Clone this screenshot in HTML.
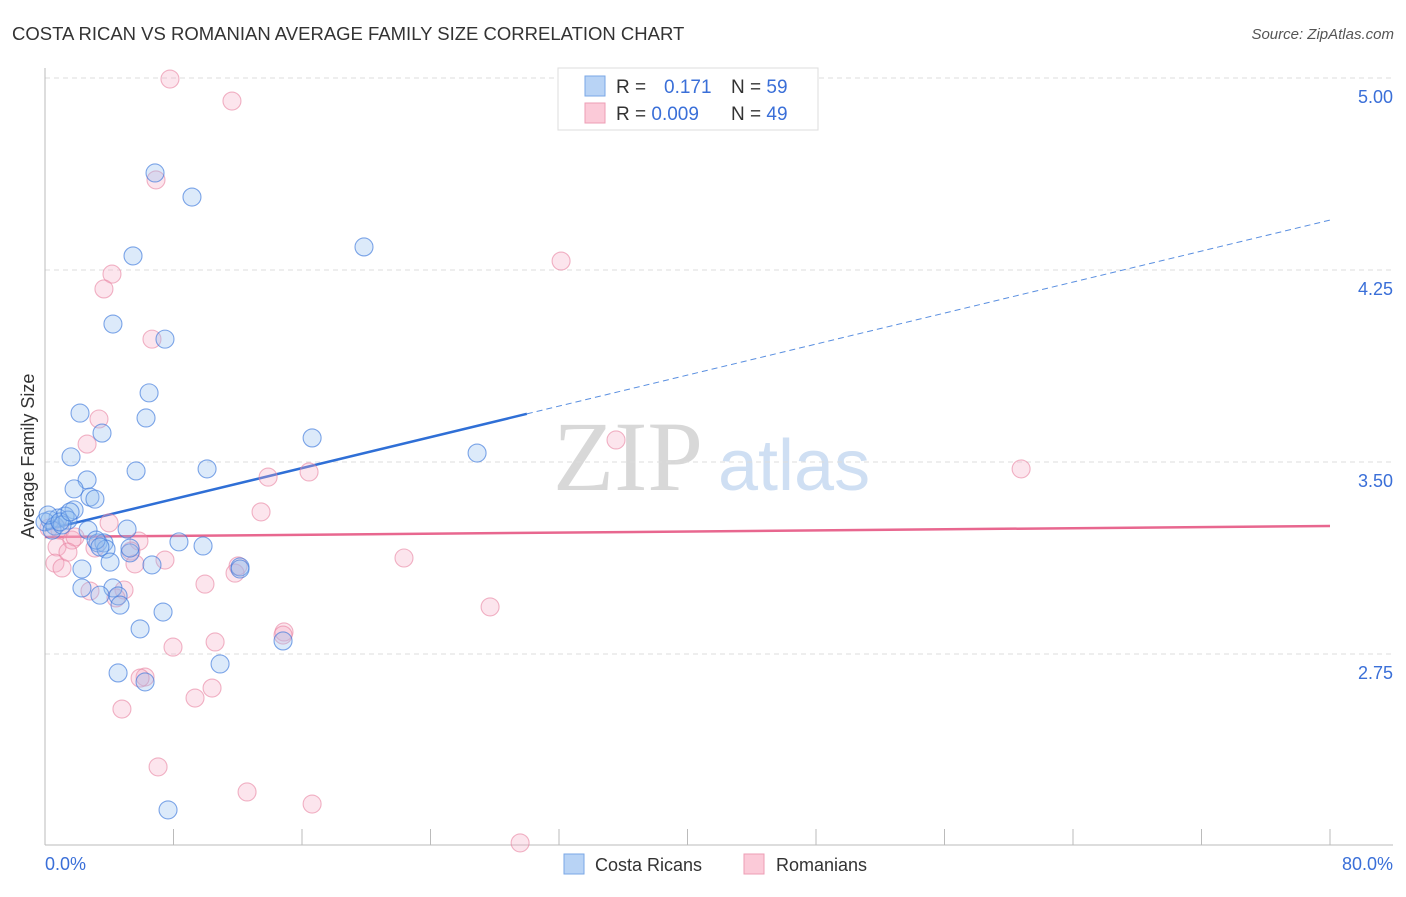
<!DOCTYPE html>
<html><head><meta charset="utf-8"><style>
body{margin:0;background:#fff;font-family:"Liberation Sans",sans-serif}
</style></head><body>
<svg id="chart" width="1406" height="892" viewBox="0 0 1406 892" font-family="Liberation Sans, sans-serif">
<text x="12" y="40" font-size="18.5" fill="#333">COSTA RICAN VS ROMANIAN AVERAGE FAMILY SIZE CORRELATION CHART</text>
<text x="1394" y="39" font-size="15" fill="#555" font-style="italic" text-anchor="end">Source: ZipAtlas.com</text>
<text transform="translate(34,456) rotate(-90)" font-size="18" fill="#333" text-anchor="middle">Average Family Size</text>
<g>
<text x="553" y="490" font-size="100" style="font-family:'Liberation Serif',serif" fill="#d8d8d8">ZIP</text>
<text x="718" y="490" font-size="72" fill="#cfdff3">atlas</text>
</g>
<g id="grid"></g>
<g id="axes"></g>
<g id="lines"></g>
<g id="pts"></g>
<g>
<rect x="558" y="68" width="260" height="62" fill="#fff" stroke="#ddd"/>
<rect x="585" y="76" width="20" height="20" fill="#b8d3f5" stroke="#7aa7e6"/>
<rect x="585" y="103" width="20" height="20" fill="#fbcad8" stroke="#ee9db5"/>
<text x="616" y="93" font-size="19" fill="#333">R = <tspan x="664" fill="#3a6fd8">0.171</tspan><tspan x="731" fill="#333">N = </tspan><tspan fill="#3a6fd8">59</tspan></text>
<text x="616" y="120" font-size="19" fill="#333">R = <tspan fill="#3a6fd8">0.009</tspan><tspan x="731" fill="#333">N = </tspan><tspan fill="#3a6fd8">49</tspan></text>
</g>
<g>
<rect x="564" y="854" width="20" height="20" fill="#b8d3f5" stroke="#7aa7e6"/>
<text x="595" y="871" font-size="18" fill="#333">Costa Ricans</text>
<rect x="744" y="854" width="20" height="20" fill="#fbcad8" stroke="#ee9db5"/>
<text x="776" y="871" font-size="18" fill="#333">Romanians</text>
</g>
<text x="45" y="870" font-size="18" fill="#3a6fd8">0.0%</text>
<text x="1393" y="870" font-size="18" fill="#3a6fd8" text-anchor="end">80.0%</text>
</svg>
<script>
const yTicks=[5.00,4.25,3.50,2.75];
const xTickVals=[0,8,16,24,32,40,48,56,64,72,80];
const blueX=[6.85,9.15,5.48,19.86,4.23,7.47,6.48,2.18,6.29,3.55,16.63,1.62,26.90,5.67,10.09,2.62,1.81,2.80,3.11,1.81,1.25,0.81,0.31,0,0.62,1.43,2.68,5.11,3.30,3.67,8.34,9.84,5.29,3.80,4.05,6.66,12.14,2.30,2.30,4.23,3.42,4.55,4.67,7.35,5.92,4.55,6.23,10.90,14.82,7.66,0.44,1.06,0.19,3.18,5.29,0.93,1.56,3.42,12.14];
const blueY=[4.629,4.535,4.305,4.340,4.039,3.980,3.770,3.691,3.672,3.613,3.594,3.520,3.535,3.465,3.473,3.430,3.395,3.363,3.355,3.313,3.289,3.281,3.273,3.266,3.250,3.273,3.234,3.238,3.184,3.184,3.188,3.172,3.145,3.160,3.109,3.098,3.090,3.082,3.008,3.008,2.980,2.977,2.941,2.914,2.848,2.676,2.641,2.711,2.801,2.141,3.234,3.254,3.293,3.195,3.164,3.266,3.305,3.168,3.082];
const pinkX=[7.78,11.64,6.91,4.17,3.67,32.13,6.66,3.36,2.62,35.55,13.89,16.44,60.77,3.99,13.45,0.25,0.93,1.68,5.85,0.75,3.11,5.35,7.47,0.62,1.06,5.60,22.35,12.02,11.83,9.96,4.92,2.80,4.42,27.71,10.59,14.88,7.97,6.23,5.92,10.40,9.34,4.79,7.04,12.58,16.63,29.58,1.87,1.43,14.82];
const pinkY=[4.996,4.910,4.602,4.234,4.176,4.285,3.980,3.668,3.570,3.586,3.441,3.461,3.473,3.262,3.305,3.242,3.234,3.195,3.191,3.168,3.164,3.152,3.117,3.105,3.086,3.102,3.125,3.094,3.066,3.023,3.000,2.996,2.969,2.934,2.797,2.836,2.777,2.660,2.656,2.617,2.578,2.535,2.309,2.211,2.164,2.012,3.207,3.148,2.824];
const blueTrend=[3.234,4.445];
const pinkTrend=[3.207,3.250];
const blueSolidEnd=30;
const NS='http://www.w3.org/2000/svg';
const X=v=>45+v*(1330-45)/80;
const Y=v=>78+(5-v)*256;
function mk(tag,attrs,parent){const e=document.createElementNS(NS,tag);for(const k in attrs)e.setAttribute(k,attrs[k]);parent.appendChild(e);return e;}
const grid=document.getElementById('grid'),axes=document.getElementById('axes'),lines=document.getElementById('lines'),pts=document.getElementById('pts');
yTicks.forEach(t=>{
 const l=mk('line',{x1:45,x2:1393,y1:Y(t),y2:Y(t),stroke:'#ddd','stroke-dasharray':'5,4'},grid);
 
 
 const tx=mk('text',{x:1393,y:Y(t)+25,'font-size':18,fill:'#3a6fd8','text-anchor':'end'},grid);
 tx.textContent=t.toFixed(2);
 
 
});
const ax=mk('line',{x1:45,x2:1393,y1:845,y2:845,stroke:'#bbb'},axes);


const ay=mk('line',{x1:45,x2:45,y1:68,y2:845,stroke:'#bbb'},axes);


xTickVals.forEach(v=>{
 const t=mk('line',{x1:X(v),x2:X(v),y1:829,y2:845,stroke:'#bbb'},axes);
 
 
});
const bY=x=>blueTrend[0]+(blueTrend[1]-blueTrend[0])*x/80;
const b1=mk('line',{x1:X(0),y1:Y(bY(0)),x2:X(blueSolidEnd),y2:Y(bY(blueSolidEnd)),stroke:'#2f6fd6','stroke-width':2.5},lines);


const b2=mk('line',{x1:X(blueSolidEnd),y1:Y(bY(blueSolidEnd)),x2:X(80),y2:Y(bY(80)),stroke:'#5a8fe0','stroke-width':1,'stroke-dasharray':'6,4'},lines);


const p1=mk('line',{x1:X(0),y1:Y(pinkTrend[0]),x2:X(80),y2:Y(pinkTrend[1]),stroke:'#e8678f','stroke-width':2.5},lines);


pinkX.forEach((x,i)=>{
 const c=mk('circle',{cx:X(x),cy:Y(pinkY[i]),r:9,fill:'rgba(245,170,195,0.3)',stroke:'rgba(232,130,160,0.6)','stroke-width':1.1},pts);
 
 
});
blueX.forEach((x,i)=>{
 const c=mk('circle',{cx:X(x),cy:Y(blueY[i]),r:9,fill:'rgba(150,190,240,0.33)',stroke:'rgba(60,120,220,0.65)','stroke-width':1.1},pts);
 
 
});
</script>
</body></html>
